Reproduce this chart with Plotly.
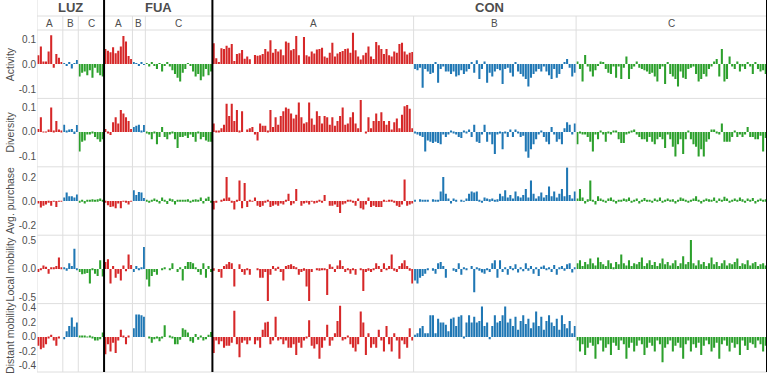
import plotly.graph_objects as go

# ---------------- data ----------------
regions = ["LUZ", "FUA", "CON"]
clusters = ["A", "B", "C"]
metrics = ["Activity", "Diversity", "Avg. purchase", "Local mobility", "Distant mobility"]
cluster_colors = {"A": "#d62728", "B": "#1f77b4", "C": "#2ca02c"}

# Activity
act_LUZ_A = [0.035, 0.07, 0.01, 0.01, 0.05, 0.115, -0.015, 0.04, 0.025, 0.005]
act_LUZ_B = [0.004, -0.006, 0.008, -0.018, 0.003, 0.016]
act_LUZ_C = [-0.05, -0.035, -0.03, -0.045, -0.025, -0.055, -0.015, -0.035, -0.045, -0.05]
act_FUA_A = [0.06, 0.053, 0.047, 0.067, 0.043, 0.053, 0.07, 0.112, 0.09, 0.032, 0.02]
act_FUA_B = [0.005, 0.003, -0.005, 0.006, -0.004]
act_FUA_C = [0.002, -0.01, 0.005, -0.005, -0.02, 0.003, -0.03, -0.005, 0.006, -0.01,
             -0.025, -0.04, -0.055, -0.07, -0.035, -0.02, 0.004, -0.005, -0.03, -0.05,
             -0.04, -0.065, -0.05, -0.02, -0.045, -0.03]
act_CON_A = [0.083, 0.023, 0.005, 0.063, 0.06, 0.073, 0.065, 0.08, 0.012, 0.04,
             0.043, 0.056, 0.021, 0.03, 0.019, 0.0, 0.036, 0.033, 0.035, 0.04,
             0.06, 0.05, 0.095, 0.045, 0.06, 0.05, 0.058, 0.035, 0.09, 0.085,
             0.055, 0.06, 0.112, 0.035, 0.0, 0.108, 0.035, 0.03, 0.05, 0.042,
             0.058, 0.06, 0.065, 0.03, 0.025, 0.045, 0.085, 0.03, 0.042, 0.048,
             0.052, 0.06, 0.062, 0.045, 0.125, 0.055, 0.03, 0.018, 0.035, 0.045,
             0.07, 0.03, 0.02, 0.088, 0.075, 0.06, 0.04, 0.06, 0.035, 0.03,
             0.05, 0.045, 0.08, 0.085, 0.05, 0.038, 0.045, 0.048]
act_CON_B = [-0.02, -0.025, -0.015, -0.095, -0.02, -0.03, -0.04, -0.035, 0.005, -0.075,
             -0.02, -0.01, -0.03, -0.03, -0.04, -0.03, -0.05, -0.045, -0.025, -0.04,
             -0.03, -0.02, 0.008, -0.035, 0.015, -0.06, -0.02, 0.01, -0.075, -0.035,
             -0.05, -0.03, -0.02, -0.025,
             -0.08, -0.02, -0.015, -0.035, -0.05, 0.005, -0.03, -0.04, -0.05, -0.06,
             -0.09, -0.055, -0.04, -0.03, -0.02, -0.03, -0.01, -0.03, -0.045, -0.06,
             -0.02, -0.055, -0.04, -0.02, 0.005, 0.02, -0.015, -0.05, -0.035]
act_CON_C = [0.01, -0.02, -0.07, 0.036, -0.01, -0.03, -0.05, -0.025, -0.005, 0.01,
             0.005, -0.02, -0.035, -0.04, -0.01, -0.055, -0.01, -0.06, -0.015, 0.03,
             -0.06, -0.02, -0.01, 0.01, -0.015, -0.02, -0.025, -0.03, -0.04, -0.035,
             -0.05, -0.07, -0.02, -0.01, -0.08, 0.005, -0.04, -0.05, -0.06, -0.09,
             -0.03, -0.055, -0.06, -0.02, -0.015, -0.01, -0.04, -0.07, -0.06, -0.04,
             -0.05, -0.02, -0.01, 0.01, 0.02, -0.05, 0.06, -0.07, -0.06, 0.03,
             -0.01, -0.02, 0.01, -0.03, -0.01, -0.02, 0.005, -0.01, -0.04, 0.005,
             -0.02, -0.03, -0.025, -0.04]

# Diversity
div_LUZ_A = [0.012, 0.06, 0.002, 0.002, 0.01, 0.1, 0.003, 0.045, 0.01, 0.003]
div_LUZ_B = [0.03, 0.005, 0.01, 0.012, -0.008, 0.028]
div_LUZ_C = [-0.08, -0.04, -0.035, -0.01, -0.01, -0.005, -0.02, -0.03, -0.04, -0.03]
div_FUA_A = [0.012, -0.005, -0.012, 0.04, 0.06, 0.035, 0.09, 0.075, 0.06, 0.045, 0.012]
div_FUA_B = [0.02, 0.025, 0.03, 0.005, 0.028]
div_FUA_C = [-0.005, -0.01, -0.03, -0.005, -0.05, -0.02, 0.02, -0.02, -0.03, -0.01,
             -0.005, -0.03, -0.065, -0.02, -0.02, -0.015, -0.025, -0.01, -0.02, -0.04,
             -0.005, -0.03, -0.02, -0.035, -0.04, -0.04]
div_CON_A = [0.035, 0.005, 0.005, 0.015, 0.03, 0.115, 0.065, 0.115, 0.045, 0.09,
             0.005, 0.085, 0.0, 0.01, 0.015, 0.02, -0.01, -0.035, 0.035, 0.025,
             0.025, 0.005, 0.09, 0.02, 0.06, 0.03, 0.065, 0.085, 0.1, 0.095,
             0.075, 0.055, 0.07, 0.12, 0.06, 0.035, 0.04, 0.12, 0.055, 0.03,
             0.085, 0.065, 0.035, 0.065, 0.06, 0.03, 0.06, 0.025, 0.045, 0.065,
             0.1, 0.03, 0.035, 0.06, 0.08, 0.035, 0.015, 0.13, 0.0, -0.005,
             0.06, 0.015, 0.045, 0.075, 0.045, 0.08, 0.045, 0.03, 0.045, 0.01,
             0.04, 0.055, 0.015, 0.07, 0.105, 0.11, 0.095, 0.015]
div_CON_B = [-0.005, -0.01, -0.015, -0.02, -0.08, -0.035, -0.04, -0.045, -0.04, -0.045,
             -0.05, -0.01, -0.02, -0.01, 0.005, -0.005, -0.01, -0.02, -0.025, 0.005,
             -0.005, 0.01, -0.02, 0.03, -0.04, -0.045, -0.01, 0.03, -0.04, -0.01,
             -0.05, -0.09, -0.01, -0.005,
             -0.07, -0.005, -0.02, 0.01, -0.02, 0.01, -0.005, -0.02, -0.015, -0.08,
             -0.105, -0.07, -0.05, -0.03, -0.01, 0.005, -0.02, -0.04, -0.05, 0.02,
             -0.01, -0.04, -0.03, -0.05, 0.015, 0.04, 0.03, -0.01, 0.035]
div_CON_C = [-0.05, -0.005, -0.01, -0.01, -0.02, -0.04, -0.08, -0.01, -0.03, 0.005,
             -0.01, -0.04, -0.005, -0.01, 0.005, 0.005, -0.03, -0.045, -0.045, -0.01,
             -0.005, 0.005, 0.01, -0.01, -0.02, -0.03, -0.03, -0.04, -0.02, -0.04,
             -0.05, -0.03, -0.02, -0.03, -0.065, -0.01, -0.03, -0.06, -0.1, -0.05,
             -0.03, -0.09, -0.03, 0.005, -0.03, -0.05, -0.06, -0.1, -0.07, -0.1,
             -0.04, -0.03, 0.01, 0.01, -0.005, -0.01, 0.035, -0.04, -0.04, -0.04,
             -0.02, 0.005, -0.02, -0.01, -0.02, -0.01, 0.02, -0.02, -0.02, -0.03,
             -0.03, -0.015, -0.08, -0.025]

# Avg. purchase
pur_LUZ_A = [-0.02, -0.055, -0.04, -0.03, -0.01, -0.04, -0.005, -0.05, -0.005, -0.005]
pur_LUZ_B = [0.03, 0.07, 0.04, 0.04, 0.03, 0.055]
pur_LUZ_C = [-0.01, 0.01, -0.02, 0.01, 0.005, 0.015, 0.01, 0.015, 0.02, 0.005]
pur_FUA_A = [-0.015, -0.035, -0.05, -0.045, -0.06, -0.02, -0.06, -0.005, -0.01, -0.03, -0.005]
pur_FUA_B = [0.09, 0.05, 0.075, 0.07, 0.025]
pur_FUA_C = [0.01, -0.01, 0.005, 0.02, 0.01, -0.02, 0.03, 0.005, -0.025, 0.02,
             0.015, -0.03, 0.01, 0.005, 0.01, 0.01, 0.015, -0.01, 0.005, 0.015,
             0.01, 0.03, -0.02, 0.02, 0.035, -0.01]
pur_CON_A = [-0.07, -0.01, 0.0, 0.01, 0.02, 0.2, 0.03, -0.01, -0.07, 0.01,
             0.17, -0.06, 0.15, -0.05, 0.01, -0.005, 0.03, -0.04, -0.05, -0.04,
             -0.01, 0.005, -0.05, -0.04, -0.03, -0.04, -0.02, -0.03, 0.005, 0.06,
             -0.035, -0.02, 0.1, 0.0, -0.04, -0.02, -0.01, -0.03, -0.005, -0.02,
             -0.01, 0.01, -0.01, 0.05, 0.0, -0.04, -0.04, -0.03, -0.05, -0.1,
             -0.03, -0.02, 0.01, 0.005, -0.015, -0.04, 0.02, -0.06, -0.07, -0.03,
             0.03, -0.05, -0.04, -0.05, -0.05, -0.05, 0.005, -0.005, 0.005, 0.005,
             -0.01, -0.04, -0.05, -0.03, 0.18, -0.04, -0.03, -0.02]
pur_CON_B = [0.01, 0.0, 0.015, 0.005, 0.01, 0.005, 0.0, 0.015, 0.005, 0.01,
             0.08, 0.2, 0.06, 0.02, -0.02, 0.02, 0.01, 0.0, 0.005, -0.005,
             0.02, 0.06, 0.08, 0.07, 0.08, 0.01, -0.01, 0.03, 0.02, 0.015,
             0.02, 0.01, 0.015,
             0.06, 0.04, 0.09, 0.03, 0.05, 0.02, 0.08, 0.04, 0.03, 0.05,
             0.1, 0.03, 0.17, 0.06, 0.02, 0.04, 0.07, 0.03, 0.05, 0.12,
             0.04, 0.08, 0.03, 0.06, 0.1, 0.04, 0.28, 0.05, 0.02, 0.08]
pur_CON_C = [0.02, 0.1, 0.03, -0.02, 0.015, 0.17, 0.01, -0.03, 0.04, 0.02,
             0.005, -0.01, 0.02, 0.03, 0.01, -0.02, 0.01, 0.005, 0.02, 0.015,
             0.03, -0.01, 0.01, 0.02, -0.02, 0.01, 0.025, 0.005, 0.01, -0.015,
             0.02, 0.01, 0.03, -0.01, 0.01, 0.02, 0.005, 0.015, -0.02, 0.01,
             0.03, 0.02, 0.01, -0.01, 0.005, 0.02, 0.04, 0.01, -0.02, 0.01,
             0.02, 0.015, 0.005, 0.03, -0.01, 0.02, 0.01, 0.035, 0.02, -0.015,
             0.01, 0.02, 0.005, 0.03, 0.015, -0.01, 0.02, 0.01, 0.025, -0.02,
             0.01, 0.02, 0.005, 0.015]

# Local mobility
loc_LUZ_A = [-0.05, -0.02, 0.06, 0.04, -0.08, 0.03, 0.03, 0.05, 0.2, 0.02]
loc_LUZ_B = [0.03, -0.03, 0.1, 0.05, 0.35, -0.02]
loc_LUZ_C = [-0.05, -0.09, -0.08, -0.07, -0.25, -0.02, -0.08, -0.12, 0.15, -0.13]
loc_FUA_A = [0.12, 0.17, -0.25, 0.05, -0.15, -0.08, -0.2, 0.06, -0.04, 0.25, 0.07]
loc_FUA_B = [-0.05, 0.05, -0.02, 0.03, 0.38]
loc_FUA_C = [-0.18, -0.3, -0.12, -0.05, -0.1, 0.0, -0.02, 0.02, 0.0, -0.02,
             0.1, 0.0, -0.05, 0.03, -0.2, 0.05, 0.12, 0.12, 0.1, 0.02,
             -0.05, -0.1, 0.1, -0.15, 0.05, -0.05]
loc_CON_A = [-0.03, 0.0, -0.05, -0.15, 0.05, 0.08, 0.12, 0.1, -0.3, 0.0,
             0.08, -0.05, -0.1, -0.02, -0.1, 0.0, 0.0, -0.02, -0.15, -0.15,
             -0.05, -0.55, -0.1, 0.05, -0.03, 0.04, -0.05, -0.2, 0.05, 0.07,
             0.08, 0.05, 0.02, -0.1, -0.05, -0.03, -0.3, -0.55, -0.05, 0.0,
             -0.02, -0.03, -0.02, -0.02, -0.45, 0.08, 0.04, -0.05, 0.06, 0.15,
             0.05, -0.05, -0.02, -0.08, -0.02, -0.1, 0.0, -0.02, -0.38, -0.05,
             -0.03, -0.05, -0.02, 0.1, 0.05, -0.05, 0.1, -0.02, 0.05, 0.25,
             -0.03, -0.05, 0.05, 0.1, 0.15, 0.05, -0.03, -0.25]
loc_CON_B = [-0.2, -0.25, -0.15, -0.12, -0.08, -0.02, 0.0, -0.03, -0.08, 0.1,
             0.12, 0.05, -0.15, 0.0, 0.0, -0.03, -0.05, 0.1, -0.1, 0.02,
             -0.02, 0.0, 0.05, -0.4, 0.02, -0.03, -0.06, -0.08, -0.02, -0.05,
             0.1, 0.15, -0.15, 0.15,
             -0.05, 0.03, -0.1, 0.05, -0.02, 0.08, -0.06, 0.02, -0.04, 0.1,
             -0.03, 0.05, -0.08, 0.02, -0.12, 0.04, 0.06, -0.02, 0.03, -0.05,
             0.07, -0.1, 0.02, 0.05, -0.03, 0.08, 0.1, -0.06, 0.03]
loc_CON_C = [0.1, 0.15, 0.05, 0.12, 0.08, 0.18, 0.1, 0.06, 0.2, 0.12,
             0.08, 0.05, 0.15, 0.1, 0.03, 0.12, 0.08, 0.25, 0.1, 0.06,
             0.15, 0.05, 0.1, 0.08, 0.12, 0.2, 0.05, 0.1, 0.15, 0.07,
             0.12, 0.05, 0.1, 0.18, 0.08, 0.12, 0.06, 0.1, 0.15, 0.05,
             0.1, 0.22, 0.08, 0.12, 0.5, 0.1, 0.06, 0.15, 0.08, 0.12,
             0.05, 0.1, 0.2, 0.08, 0.12, 0.05, 0.1, 0.15, 0.06, 0.1,
             0.08, 0.12, 0.18, 0.05, 0.1, 0.08, 0.15, 0.06, 0.1, 0.12,
             0.05, 0.08, 0.1, 0.06]

# Distant mobility
dis_LUZ_A = [-0.12, -0.17, -0.15, -0.1, -0.02, 0.03, -0.05, -0.12, -0.01, 0.0]
dis_LUZ_B = [-0.03, 0.08, 0.15, 0.27, 0.14, 0.2]
dis_LUZ_C = [0.01, 0.01, 0.01, 0.005, 0.02, -0.01, -0.05, -0.05, -0.03, 0.06]
dis_FUA_A = [-0.24, -0.1, -0.2, -0.08, -0.22, -0.05, 0.1, 0.02, -0.1, 0.02, 0.0]
dis_FUA_B = [0.12, 0.31, 0.31, 0.3, 0.28]
dis_FUA_C = [0.0, -0.02, -0.08, -0.03, -0.01, -0.06, -0.02, 0.16, 0.0, 0.02,
             -0.01, -0.1, -0.1, -0.04, 0.12, 0.1, 0.06, -0.06, -0.08, 0.04,
             -0.04, 0.01, -0.05, -0.03, 0.03, 0.07]
dis_CON_A = [-0.22, -0.05, -0.1, -0.06, -0.15, -0.12, -0.12, -0.08, 0.36, -0.1,
             -0.28, -0.08, -0.05, -0.1, -0.05, 0.0, -0.1, -0.05, -0.15, 0.1,
             0.2, 0.21, -0.1, -0.05, 0.28, -0.05, -0.03, -0.1, -0.05, -0.15,
             -0.15, -0.1, -0.25, -0.08, -0.15, -0.05, -0.02, 0.23, -0.12, -0.16,
             -0.1, -0.3, -0.15, -0.05, 0.17, -0.12, -0.05, 0.05, 0.22, 0.43,
             -0.05, -0.03, 0.01, -0.1, -0.15, -0.2, -0.1, 0.35, 0.2, -0.25,
             0.05, -0.15, -0.1, -0.15, 0.1, -0.05, -0.2, 0.15, -0.1, -0.2,
             0.05, -0.05, -0.3, -0.05, -0.1, -0.15, 0.12, -0.05]
dis_CON_B = [0.03, 0.05, 0.12, 0.15, 0.05, 0.05, 0.3, 0.3, 0.05, 0.25,
             0.2, 0.2, 0.17, 0.08, 0.25, 0.27, 0.15, 0.28, 0.3, -0.02,
             0.2, 0.3, 0.2, 0.28, 0.2, 0.22, 0.42, 0.15, 0.2, -0.03,
             0.15, 0.3, 0.2, 0.22,
             0.3, 0.42, 0.2, 0.25, 0.15, 0.28, 0.1, 0.22, 0.3, 0.18,
             0.25, 0.12, 0.2, 0.35, 0.15, 0.28, 0.1, 0.22, 0.3, 0.2,
             0.15, 0.25, 0.1, 0.3, 0.18, 0.12, 0.22, 0.05, 0.15]
dis_CON_C = [-0.05, -0.2, -0.1, -0.25, -0.15, -0.08, -0.12, -0.3, -0.1, -0.05,
             -0.2, -0.15, -0.1, -0.25, -0.08, -0.12, -0.18, -0.05, -0.1, -0.3,
             -0.15, -0.08, -0.2, -0.12, -0.05, -0.1, -0.25, -0.15, -0.08, -0.12,
             -0.2, -0.05, -0.1, -0.35, -0.15, -0.1, -0.05, -0.2, -0.12, -0.08,
             -0.15, -0.3, -0.1, -0.05, -0.2, -0.1, -0.15, -0.08, -0.25, -0.12,
             -0.05, -0.1, -0.2, -0.15, -0.08, -0.3, -0.1, -0.05, -0.12, -0.2,
             -0.08, -0.15, -0.1, -0.25, -0.05, -0.12, -0.18, -0.08, -0.1, -0.15,
             -0.05, -0.1, -0.2, -0.12]

# y-axis ticks per metric
tick_vals = {
    "Activity": [-0.1, 0.0, 0.1],
    "Diversity": [-0.1, 0.0, 0.1],
    "Avg. purchase": [-0.2, 0.0, 0.2],
    "Local mobility": [-0.5, 0.0, 0.5],
    "Distant mobility": [-0.4, -0.2, 0.0, 0.2, 0.4],
}
y_ranges = {
    "Activity": [-0.1376, 0.136],
    "Diversity": [-0.142, 0.137],
    "Avg. purchase": [-0.285, 0.285],
    "Local mobility": [-0.597, 0.583],
    "Distant mobility": [-0.483, 0.46],
}

# ---------------- assembly ----------------
series = {
    "Activity": {"LUZ": [act_LUZ_A, act_LUZ_B, act_LUZ_C], "FUA": [act_FUA_A, act_FUA_B, act_FUA_C],
                 "CON": [act_CON_A, act_CON_B, act_CON_C]},
    "Diversity": {"LUZ": [div_LUZ_A, div_LUZ_B, div_LUZ_C], "FUA": [div_FUA_A, div_FUA_B, div_FUA_C],
                  "CON": [div_CON_A, div_CON_B, div_CON_C]},
    "Avg. purchase": {"LUZ": [pur_LUZ_A, pur_LUZ_B, pur_LUZ_C], "FUA": [pur_FUA_A, pur_FUA_B, pur_FUA_C],
                      "CON": [pur_CON_A, pur_CON_B, pur_CON_C]},
    "Local mobility": {"LUZ": [loc_LUZ_A, loc_LUZ_B, loc_LUZ_C], "FUA": [loc_FUA_A, loc_FUA_B, loc_FUA_C],
                       "CON": [loc_CON_A, loc_CON_B, loc_CON_C]},
    "Distant mobility": {"LUZ": [dis_LUZ_A, dis_LUZ_B, dis_LUZ_C], "FUA": [dis_FUA_A, dis_FUA_B, dis_FUA_C],
                         "CON": [dis_CON_A, dis_CON_B, dis_CON_C]},
}

group_sizes = {r: [len(v) for v in series["Activity"][r]] for r in regions}
N = sum(sum(group_sizes[r]) for r in regions)

W, H = 769, 374
ML, MR, MT, MB = 37, 2, 30, 2
plot_h = H - MT - MB
plot_w = W - ML - MR
n_rows = len(metrics)

def paper_y(px):
    return (H - MB - px) / plot_h

fig = go.Figure()
GREY = "#4d4d4d"
LINE = "#dedede"
FONT = "Liberation Sans, Arial, sans-serif"

for i, m in enumerate(metrics):
    yname = "y" if i == 0 else f"y{i+1}"
    xs, ys, cs = [], [], []
    pos = 0
    for r in regions:
        for j, c in enumerate(clusters):
            vals = series[m][r][j]
            n = group_sizes[r][j]
            for k in range(min(n, len(vals))):
                xs.append(pos + k)
                ys.append(vals[k])
                cs.append(cluster_colors[c])
            pos += n
    fig.add_trace(go.Bar(x=xs, y=ys, marker=dict(color=cs, line=dict(width=0)),
                         width=0.8, xaxis="x", yaxis=yname, showlegend=False,
                         hovertemplate=m + ": %{y}<extra></extra>"))

    top = 1 - i / n_rows
    bot = 1 - (i + 1) / n_rows
    tv = tick_vals[m]
    yax = dict(domain=[bot, top], range=y_ranges[m], anchor="x", automargin=False,
               tickvals=tv, ticktext=["%.1f" % v for v in tv],
               showgrid=False, zeroline=False, showline=False, ticks="",
               tickfont=dict(size=10, color=GREY, family=FONT))
    fig.layout["yaxis" if i == 0 else f"yaxis{i+1}"] = yax
    fig.add_annotation(text=m, xref="paper", yref="paper", x=-27.0 / plot_w, y=(top + bot) / 2,
                       textangle=-90, showarrow=False, xanchor="center", yanchor="middle",
                       font=dict(size=10.5, color=GREY, family=FONT))

fig.update_layout(
    template="none",
    width=W, height=H, margin=dict(l=ML, r=MR, t=MT, b=MB, autoexpand=False),
    paper_bgcolor="white", plot_bgcolor="white",
    barmode="overlay",
    xaxis=dict(range=[-0.5, N - 0.5], showticklabels=False, showgrid=False, automargin=False,
               zeroline=False, showline=False, ticks="", anchor="y5"),
    font=dict(family=FONT),
)

shapes = []
for py in [16]:
    shapes.append(dict(type="line", xref="paper", yref="paper", x0=0, x1=1,
                       y0=paper_y(py), y1=paper_y(py), line=dict(color=LINE, width=1)))
for i in range(n_rows + 1):
    yy = 1 - i / n_rows
    shapes.append(dict(type="line", xref="paper", yref="paper", x0=0, x1=1,
                       y0=yy, y1=yy, line=dict(color=LINE, width=1)))
shapes.append(dict(type="line", xref="x", yref="paper", x0=-0.5, x1=-0.5,
                   y0=0, y1=paper_y(0), line=dict(color=LINE, width=1)))

pos = 0
for r in regions:
    start = pos
    for j, c in enumerate(clusters):
        n = group_sizes[r][j]
        center = pos + (n - 1) / 2
        fig.add_annotation(text=c, xref="x", yref="paper", x=center, y=paper_y(23),
                           showarrow=False, xanchor="center", yanchor="middle",
                           font=dict(size=10, color=GREY, family=FONT))
        pos += n
        if j < len(clusters) - 1:
            shapes.append(dict(type="line", xref="x", yref="paper", x0=pos - 0.5, x1=pos - 0.5,
                               y0=0, y1=paper_y(16), line=dict(color=LINE, width=1)))
    fig.add_annotation(text="<b>" + r + "</b>", xref="x", yref="paper", x=(start + pos - 1) / 2,
                       y=paper_y(8), showarrow=False, xanchor="center", yanchor="middle",
                       font=dict(size=13, color=GREY, family=FONT))
    shapes.append(dict(type="line", xref="x", yref="paper", x0=pos - 0.5, x1=pos - 0.5,
                       y0=0, y1=paper_y(0), line=dict(color="black", width=2)))

fig.update_layout(shapes=shapes)
fig.write_html("out.html", config={"displayModeBar": False},
               post_script="document.body.style.margin='0';document.body.style.overflow='hidden';")
